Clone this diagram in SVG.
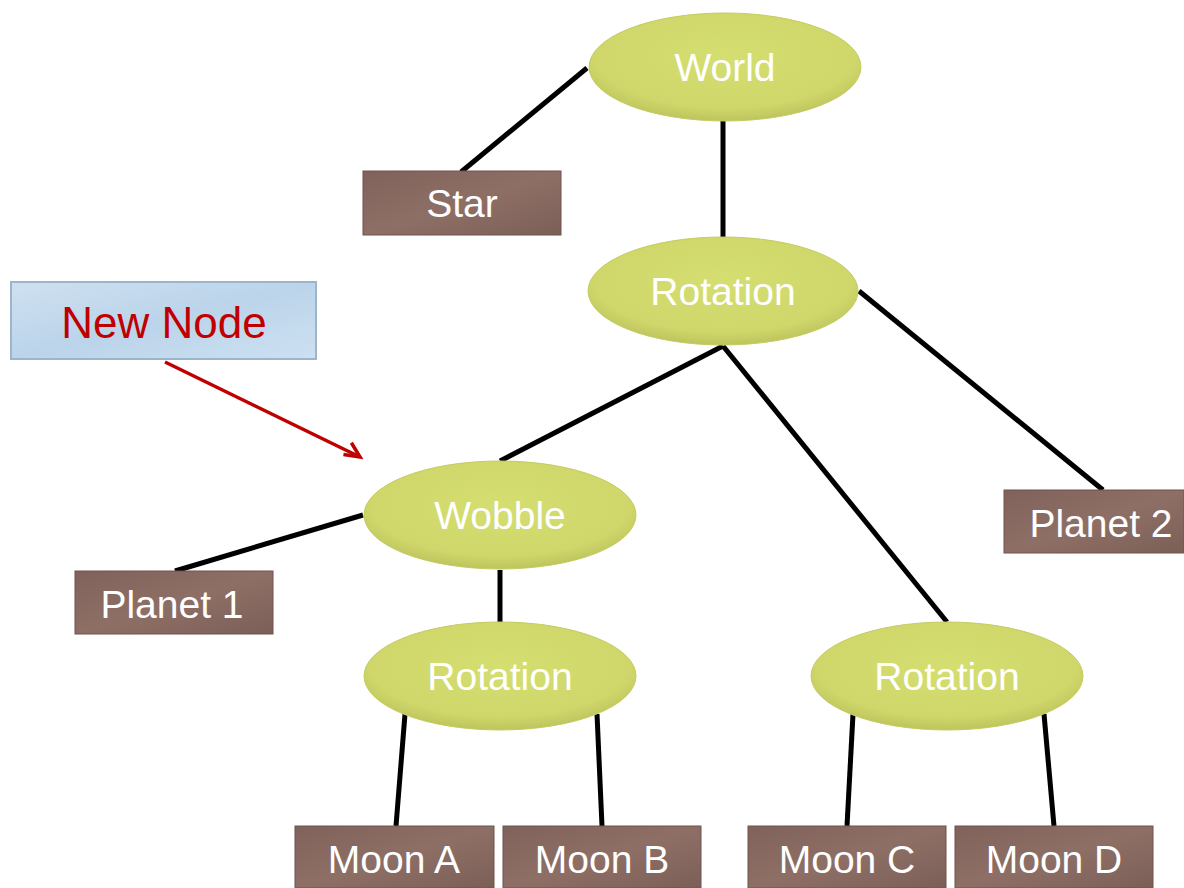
<svg xmlns="http://www.w3.org/2000/svg" width="1184" height="888" viewBox="0 0 1184 888">
<defs>
<radialGradient id="eg" cx="0.5" cy="0.4" r="0.6">
<stop offset="0" stop-color="#d5de70"/>
<stop offset="0.8" stop-color="#cfd76b"/>
<stop offset="1" stop-color="#bcc45c"/>
</radialGradient>
<linearGradient id="rg" x1="0" y1="0" x2="1" y2="1">
<stop offset="0" stop-color="#7f625a"/>
<stop offset="0.5" stop-color="#8e6f66"/>
<stop offset="1" stop-color="#7b5f57"/>
</linearGradient>
<linearGradient id="bg" x1="0" y1="0" x2="1" y2="1">
<stop offset="0" stop-color="#cfe0f0"/>
<stop offset="0.5" stop-color="#bbd4ea"/>
<stop offset="1" stop-color="#cde0f1"/>
</linearGradient>
<marker id="ah" markerWidth="24" markerHeight="24" refX="20" refY="12" orient="auto" markerUnits="userSpaceOnUse" viewBox="0 0 24 24">
<path d="M6,3 L20,12 L4,17" fill="none" stroke="#c00000" stroke-width="3.5" stroke-linejoin="miter"/>
</marker>
<style>
.e{fill:url(#eg);stroke:#c4cc62;stroke-width:1}
.r{fill:url(#rg);stroke:#6e544d;stroke-width:1}
.t{font-family:"Liberation Sans",Lato,sans-serif;font-size:39px;fill:#ffffff;text-anchor:middle}
.c{stroke:#000;stroke-width:5;fill:none}
</style>
</defs>
<rect width="1184" height="888" fill="#ffffff"/>
<g id="connectors">
<line class="c" x1="587" y1="68" x2="461" y2="172"/>
<line class="c" x1="723" y1="120" x2="723" y2="237"/>
<line class="c" x1="723" y1="346" x2="500" y2="461"/>
<line class="c" x1="723" y1="346" x2="947" y2="622"/>
<line class="c" x1="859" y1="291" x2="1103" y2="490"/>
<line class="c" x1="363" y1="515" x2="175" y2="571"/>
<line class="c" x1="500" y1="570" x2="500" y2="622"/>
<line class="c" x1="405" y1="714" x2="396" y2="826"/>
<line class="c" x1="597" y1="714" x2="602" y2="826"/>
<line class="c" x1="853" y1="714" x2="847" y2="826"/>
<line class="c" x1="1044" y1="714" x2="1054" y2="826"/>
<line x1="165" y1="362" x2="360" y2="457" stroke="#c00000" stroke-width="3.5" marker-end="url(#ah)"/>
</g>
<g id="world"><ellipse class="e" cx="725" cy="67" rx="136" ry="54"/><text class="t" x="725" y="81">World</text></g>
<g id="star"><rect class="r" x="363" y="171" width="198" height="64"/><text class="t" x="462" y="217">Star</text></g>
<g id="rotation1"><ellipse class="e" cx="723" cy="291" rx="135" ry="54"/><text class="t" x="723" y="305">Rotation</text></g>
<g id="newnode"><rect x="11" y="282" width="305" height="77" fill="url(#bg)" stroke="#9db5cc" stroke-width="2"/><text x="164" y="338" font-family="Liberation Sans,Lato,sans-serif" font-size="44" fill="#c00000" text-anchor="middle">New Node</text></g>
<g id="wobble"><ellipse class="e" cx="500" cy="515" rx="136" ry="54"/><text class="t" x="500" y="529">Wobble</text></g>
<g id="planet1"><rect class="r" x="75" y="571" width="198" height="63"/><text class="t" x="172" y="618">Planet 1</text></g>
<g id="planet2"><rect class="r" x="1004" y="490" width="180" height="63"/><text class="t" x="1101" y="537">Planet 2</text></g>
<g id="rotation2"><ellipse class="e" cx="500" cy="676" rx="136" ry="54"/><text class="t" x="500" y="690">Rotation</text></g>
<g id="rotation3"><ellipse class="e" cx="947" cy="676" rx="136" ry="54"/><text class="t" x="947" y="690">Rotation</text></g>
<g id="moonA"><rect class="r" x="295" y="826" width="199" height="62"/><text class="t" x="394" y="873">Moon A</text></g>
<g id="moonB"><rect class="r" x="503" y="826" width="198" height="62"/><text class="t" x="602" y="873">Moon B</text></g>
<g id="moonC"><rect class="r" x="748" y="826" width="198" height="62"/><text class="t" x="847" y="873">Moon C</text></g>
<g id="moonD"><rect class="r" x="955" y="826" width="198" height="62"/><text class="t" x="1054" y="873">Moon D</text></g>
</svg>
